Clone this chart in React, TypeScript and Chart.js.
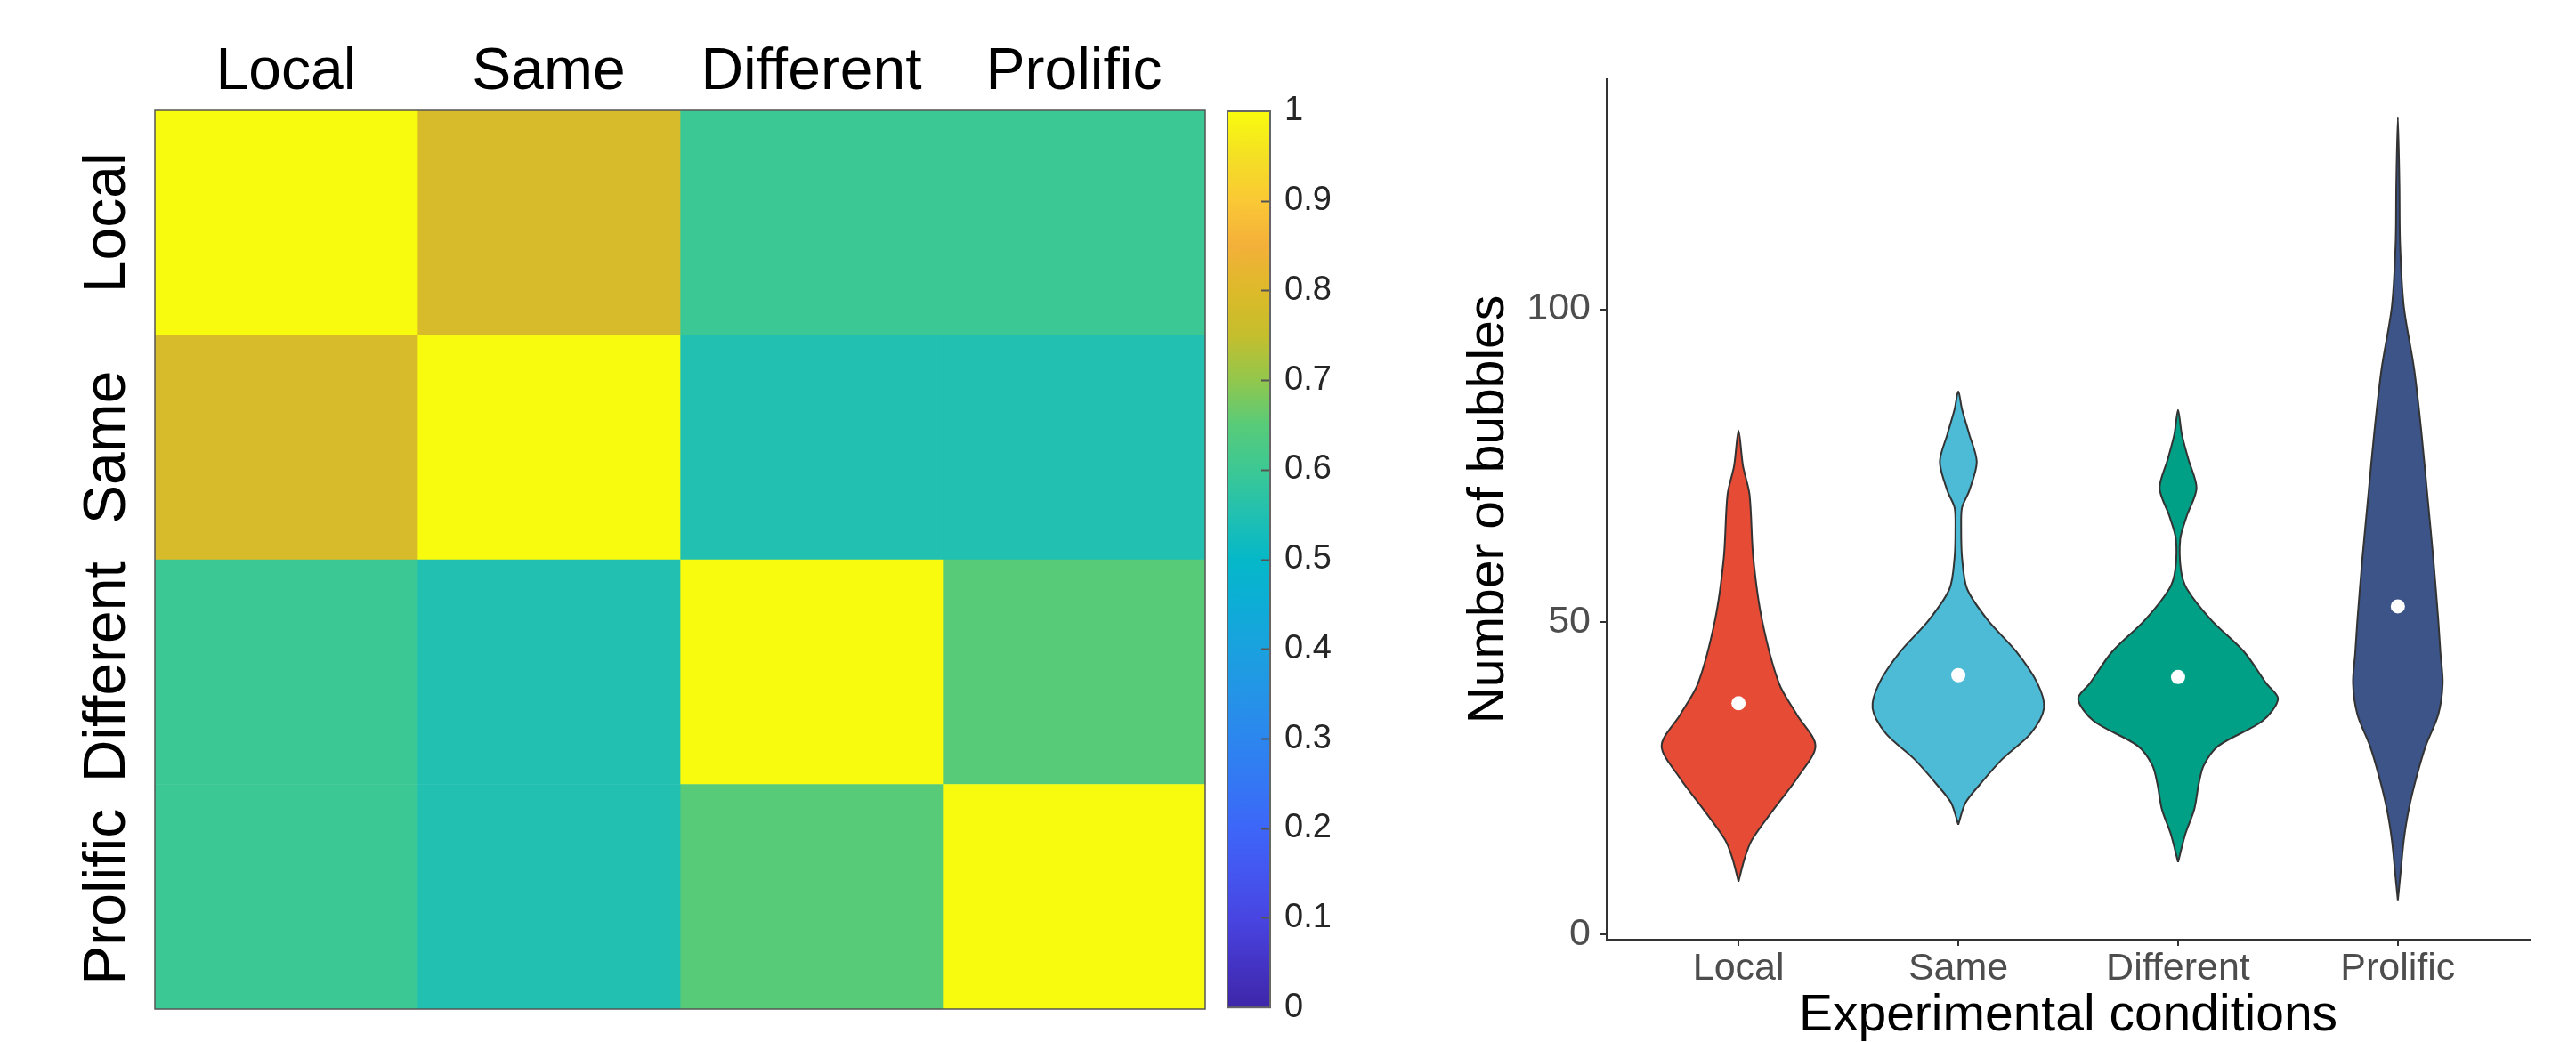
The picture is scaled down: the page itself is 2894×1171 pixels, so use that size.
import React, { useEffect, useRef } from "react";
import { Chart, registerables } from "chart.js";

Chart.register(...registerables);

const FONT = "'Liberation Sans', Arial, Helvetica, sans-serif";

// ---------- Heatmap data ----------
const conditions = ["Local", "Same", "Different", "Prolific"];
const rowLocal = [1.0, 0.79, 0.6, 0.6];
const rowSame = [0.79, 1.0, 0.55, 0.55];
const rowDifferent = [0.6, 0.55, 1.0, 0.65];
const rowProlific = [0.6, 0.55, 0.65, 1.0];
const heatRows = [rowLocal, rowSame, rowDifferent, rowProlific];

// colour map (parula-like) stops
const cmapStops = [0, 0.05, 0.1, 0.15, 0.2, 0.25, 0.3, 0.35, 0.4, 0.45, 0.5, 0.55, 0.6, 0.65, 0.7, 0.75, 0.8, 0.85, 0.9, 0.95, 1];
const cmapColors = [
  "#3E26A8", "#4434C6", "#4845E2", "#4456F0", "#3D66F8", "#3477F4", "#2C86EE",
  "#2494E6", "#1AA1DF", "#0DADD6", "#05B8C8", "#21C0B1", "#3CC894", "#58CB79",
  "#92C74C", "#C5BE2D", "#DDBA29", "#F4B03A", "#FAC835", "#F4E024", "#F9FB0E",
];
const colorbarTicks = [0, 0.1, 0.2, 0.3, 0.4, 0.5, 0.6, 0.7, 0.8, 0.9, 1];

// ---------- Violin data ----------
const violinColors = ["#E64B35", "#4DBBD5", "#00A087", "#3C5488"];
const meanBubbles = [37.0, 41.5, 41.2, 52.5];

const localValues = [8.5, 12.1, 15.1, 20.1, 25.1, 30.2, 35.2, 40.2, 50.3, 60.3, 70.4, 75, 80.6];
const localHalfWidths = [0, 0.027, 0.06, 0.161, 0.268, 0.35, 0.265, 0.184, 0.107, 0.067, 0.05, 0.02, 0];

const sameValues = [17.6, 21.1, 24.1, 28.1, 32.2, 36.2, 40.2, 45.2, 50.3, 55.3, 60.3, 65, 68.3, 71, 75.6, 80, 84, 86.9];
const sameHalfWidths = [0, 0.033, 0.1, 0.201, 0.33, 0.39, 0.36, 0.265, 0.134, 0.04, 0.017, 0.013, 0.017, 0.05, 0.084, 0.05, 0.017, 0];

const differentValues = [11.6, 16.1, 20.1, 24.1, 27.1, 30.2, 34.2, 37.7, 40.2, 45.2, 50.3, 55.3, 58.3, 63.3, 67, 71.4, 76, 80, 83.9];
const differentHalfWidths = [0, 0.033, 0.074, 0.094, 0.117, 0.184, 0.385, 0.455, 0.401, 0.301, 0.151, 0.04, 0.013, 0.01, 0.04, 0.084, 0.047, 0.017, 0];

const prolificValues = [5.5, 10.1, 15.1, 20.1, 25.1, 30.2, 35.2, 40.2, 45, 50.3, 60.3, 70.4, 80.4, 90.5, 100.5, 110.6, 120, 130.7];
const prolificHalfWidths = [0, 0.013, 0.027, 0.05, 0.084, 0.127, 0.184, 0.204, 0.194, 0.184, 0.161, 0.134, 0.107, 0.074, 0.027, 0.01, 0.007, 0];

const violinValues = [localValues, sameValues, differentValues, prolificValues];
const violinHalfWidths = [localHalfWidths, sameHalfWidths, differentHalfWidths, prolificHalfWidths];
const yTicksBubbles = [0, 50, 100];

// ---------- helpers ----------
function hexToRgb(h: string) {
  const n = parseInt(h.slice(1), 16);
  return [(n >> 16) & 255, (n >> 8) & 255, n & 255];
}
function cmap(v: number) {
  for (let i = 0; i < cmapStops.length - 1; i++) {
    if (v <= cmapStops[i + 1]) {
      const t = (v - cmapStops[i]) / (cmapStops[i + 1] - cmapStops[i]);
      const a = hexToRgb(cmapColors[i]);
      const b = hexToRgb(cmapColors[i + 1]);
      const c = a.map((x, k) => Math.round(x + (b[k] - x) * t));
      return `rgb(${c[0]},${c[1]},${c[2]})`;
    }
  }
  return cmapColors[cmapColors.length - 1];
}
function violinPoints(center: number, ys: number[], hws: number[]) {
  const right = ys.map((y, k) => ({ x: center + hws[k], y }));
  const left = ys.map((y, k) => ({ x: center - hws[k], y })).reverse();
  return [...right, ...left.slice(1)];
}

export default function App() {
  const heatRef = useRef<HTMLCanvasElement>(null);
  const cbRef = useRef<HTMLCanvasElement>(null);
  const vioRef = useRef<HTMLCanvasElement>(null);

  useEffect(() => {
    Chart.defaults.font.family = FONT;

    const rowLabelPlugin = {
      id: "rowLabels",
      afterDraw(chart: any) {
        const { ctx } = chart;
        const ys = chart.scales.y;
        ctx.save();
        ctx.font = `66px ${FONT}`;
        ctx.fillStyle = "#000";
        ctx.textAlign = "center";
        ctx.textBaseline = "middle";
        conditions.forEach((lab, i) => {
          const y = ys.getPixelForValue(i);
          ctx.save();
          ctx.translate(ys.right - 52, y);
          ctx.rotate(-Math.PI / 2);
          ctx.fillText(lab, 0, 0);
          ctx.restore();
        });
        ctx.restore();
      },
    };
    const frameRect = {
      id: "frameRect",
      afterDatasetsDraw(chart: any) {
        const { ctx, chartArea: a } = chart;
        ctx.save();
        ctx.strokeStyle = "#555";
        ctx.lineWidth = 1.5;
        ctx.strokeRect(a.left, a.top, a.right - a.left, a.bottom - a.top);
        ctx.restore();
      },
    };

    const heat = new Chart(heatRef.current!, {
      type: "bar",
      data: {
        labels: conditions,
        datasets: conditions.map((col, c) => ({
          label: col,
          data: heatRows.map(() => 1),
          backgroundColor: heatRows.map((r) => cmap(r[c])),
          borderWidth: 0,
          barPercentage: 1,
          categoryPercentage: 1,
        })),
      },
      options: {
        indexAxis: "y",
        responsive: false,
        animation: false,
        events: [],
        layout: { padding: { top: 0, left: 0, right: 6, bottom: 37 } },
        plugins: { legend: { display: false }, tooltip: { enabled: false } },
        scales: {
          x: {
            type: "linear",
            position: "top",
            stacked: true,
            min: 0,
            max: 4,
            afterBuildTicks: (s: any) => {
              s.ticks = conditions.map((_, i) => ({ value: i + 0.5 }));
            },
            ticks: {
              autoSkip: false,
              maxRotation: 0,
              padding: 3,
              color: "#000",
              font: { size: 66, family: FONT },
              callback: (_v: any, i: number) => conditions[i],
            },
            grid: { display: false, drawTicks: false },
            border: { display: false },
            afterFit: (s: any) => {
              s.height = 124;
            },
          },
          y: {
            type: "category",
            stacked: true,
            ticks: { display: false },
            grid: { display: false, drawTicks: false },
            border: { display: false },
            afterFit: (s: any) => {
              s.width = 174;
            },
          },
        },
      },
      plugins: [rowLabelPlugin, frameRect],
    } as any);

    const cbTicksPlugin = {
      id: "cbTicks",
      afterDatasetsDraw(chart: any) {
        const { ctx, chartArea: a } = chart;
        const ys = chart.scales.y;
        ctx.save();
        ctx.strokeStyle = "#555";
        ctx.lineWidth = 2;
        colorbarTicks.slice(1, -1).forEach((v) => {
          const y = Math.round(ys.getPixelForValue(v)) + 0.5;
          ctx.beginPath();
          ctx.moveTo(a.right - 10, y);
          ctx.lineTo(a.right, y);
          ctx.stroke();
        });
        ctx.strokeStyle = "#666";
        ctx.lineWidth = 2;
        ctx.strokeRect(a.left, a.top, a.right - a.left, a.bottom - a.top);
        ctx.restore();
      },
    };

    const cb = new Chart(cbRef.current!, {
      type: "bar",
      data: {
        labels: ["scale"],
        datasets: [
          {
            data: [[0, 1]],
            backgroundColor: (ctx: any) => {
              const chart = ctx.chart;
              const ys = chart.scales.y;
              if (!chart.chartArea || !ys) return cmapColors[cmapColors.length - 1];
              const g = chart.ctx.createLinearGradient(0, ys.getPixelForValue(0), 0, ys.getPixelForValue(1));
              cmapStops.forEach((s, i) => g.addColorStop(s, cmapColors[i]));
              return g;
            },
            borderWidth: 0,
            barPercentage: 1,
            categoryPercentage: 1,
          },
        ],
      },
      options: {
        responsive: false,
        animation: false,
        events: [],
        layout: { padding: { top: 125, left: 9, right: 0, bottom: 37 } },
        plugins: { legend: { display: false }, tooltip: { enabled: false } },
        scales: {
          x: { display: false },
          y: {
            position: "right",
            min: 0,
            max: 1,
            afterBuildTicks: (s: any) => {
              s.ticks = colorbarTicks.map((v) => ({ value: v }));
            },
            ticks: {
              padding: 16,
              color: "#262626",
              font: { size: 38, family: FONT },
              callback: (v: any) => {
                const n = Number(v);
                return n === 0 || n === 1 ? String(n) : n.toFixed(1);
              },
            },
            grid: { display: false, drawTicks: false },
            border: { display: false },
            afterFit: (s: any) => {
              s.width = 100;
            },
          },
        },
      },
      plugins: [cbTicksPlugin],
    } as any);

    const vio = new Chart(vioRef.current!, {
      type: "scatter",
      data: {
        datasets: [
          {
            type: "scatter",
            label: "mean",
            data: meanBubbles.map((m, i) => ({ x: i + 1, y: m })),
            pointRadius: 8,
            pointBackgroundColor: "#ffffff",
            pointBorderWidth: 0,
            order: -1,
          },
          ...conditions.map((c, i) => ({
            type: "line",
            label: c,
            data: violinPoints(i + 1, violinValues[i], violinHalfWidths[i]),
            showLine: true,
            fill: "shape",
            backgroundColor: violinColors[i],
            borderColor: "#333333",
            borderWidth: 2,
            pointRadius: 0,
            tension: 0.3,
            order: 1,
          })),
        ],
      },
      options: {
        responsive: false,
        animation: false,
        events: [],
        layout: { padding: { top: 89, left: 0, right: 52, bottom: 0 } },
        plugins: { legend: { display: false }, tooltip: { enabled: false } },
        scales: {
          x: {
            type: "linear",
            min: 0.4,
            max: 4.6,
            afterBuildTicks: (s: any) => {
              s.ticks = conditions.map((_, i) => ({ value: i + 1 }));
            },
            ticks: {
              autoSkip: false,
              maxRotation: 0,
              padding: 0,
              color: "#4D4D4D",
              font: { size: 43, family: FONT },
              callback: (_v: any, i: number) => conditions[i],
            },
            grid: { display: true, drawOnChartArea: false, drawTicks: true, tickLength: 7, color: "#333", lineWidth: 2 },
            border: { display: true, color: "#333", width: 2.5 },
            title: {
              display: true,
              text: "Experimental conditions",
              color: "#000",
              font: { size: 57, family: FONT, lineHeight: 1 },
              padding: { top: 0, bottom: 0 },
            },
            afterFit: (s: any) => {
              s.height = 115;
            },
          },
          y: {
            type: "linear",
            min: -0.8,
            max: 136.8,
            afterBuildTicks: (s: any) => {
              s.ticks = yTicksBubbles.map((v) => ({ value: v }));
            },
            ticks: {
              padding: 11,
              color: "#4D4D4D",
              font: { size: 43, family: FONT },
            },
            grid: { display: true, drawOnChartArea: false, drawTicks: true, tickLength: 7, color: "#333", lineWidth: 2 },
            border: { display: true, color: "#333", width: 2.5 },
            title: {
              display: true,
              text: "Number of bubbles",
              color: "#000",
              font: { size: 57, family: FONT },
              padding: { top: 39, bottom: 0 },
            },
            afterFit: (s: any) => {
              s.width = 205;
            },
          },
        },
      },
    } as any);

    return () => {
      heat.destroy();
      cb.destroy();
      vio.destroy();
    };
  }, []);

  return (
    <div style={{ position: "fixed", left: 0, top: 0, width: 2894, height: 1171, background: "#fff", overflow: "hidden" }}>
      <div style={{ position: "absolute", left: 0, top: 31, width: 1625, height: 1, background: "#eeeeee" }} />
      <canvas ref={heatRef} width={1360} height={1171} style={{ position: "absolute", left: 0, top: 0 }} />
      <canvas ref={cbRef} width={157} height={1171} style={{ position: "absolute", left: 1370, top: 0 }} />
      <canvas ref={vioRef} width={1294} height={1171} style={{ position: "absolute", left: 1600, top: 0 }} />
    </div>
  );
}
